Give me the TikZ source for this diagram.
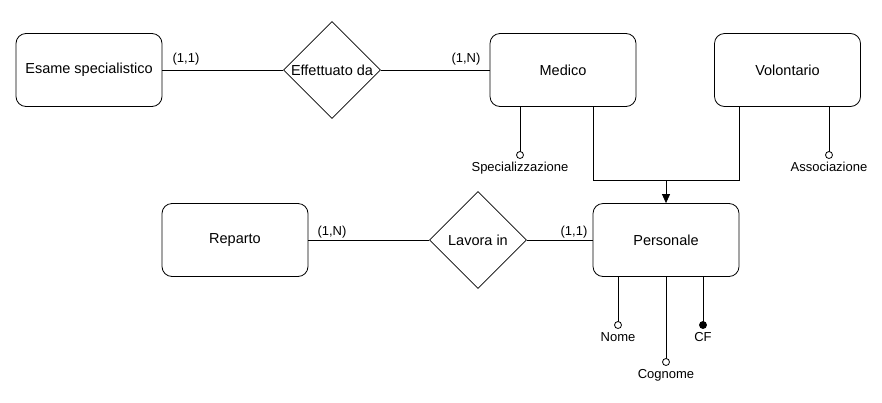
\documentclass[tikz,border=0pt]{standalone}
\usepackage{fontspec}
\setmainfont{Liberation Sans}
\usetikzlibrary{positioning}
\usetikzlibrary{shapes.geometric}
\usetikzlibrary{arrows.meta}

\tikzset{
  entity/.style={draw, rounded corners=10pt, minimum width=146pt, minimum height=73pt, font=\fontsize{14.5}{17}\selectfont},
  relation/.style={draw, diamond, aspect=1, minimum width=97pt, minimum height=97pt, inner sep=0pt, font=\fontsize{14.5}{17}\selectfont},
  card/.style={font=\fontsize{13}{15}\selectfont, inner sep=0pt},
  attr/.style={draw, circle, fill=white, minimum size=7pt, inner sep=0pt},
  attrkey/.style={attr, fill=black},
  attrlabel/.style={font=\fontsize{13}{15}\selectfont, inner sep=1pt}
}

\begin{document}
\begin{tikzpicture}[x=1pt,y=-1pt,line width=0.8pt]
		\useasboundingbox (0,0) rectangle (882,402);
		% entities
		\node at (89,70) [entity] (esame) {Esame specialistico};
		\node at (563,70) [entity] (medico) {Medico};
		\node at (787.5,70) [entity] (volontario) {Volontario};
		\node at (235,240) [entity] (reparto) {Reparto};
		\node at (666,240) [entity] (personale) {Personale};
		% relations
		\node at (332,70) [relation] (effettuato) {Effettuato da};
		\node at (478,240) [relation] (lavora) {Lavora in};
		\draw (esame) -- (effettuato) -- (medico);
		\draw (reparto) -- (lavora) -- (personale);
		\node at (186,59) [card] (c1) {(1,1)};
		\node at (466,59) [card] (c2) {(1,N)};
		\node at (332,232) [card] (c3) {(1,N)};
		\node at (574,232) [card] (c4) {(1,1)};
		% generalization
		\coordinate (gm) at (593,180);
		\coordinate (gv) at (739,180);
		\coordinate (join) at (666,180);
		\draw (gm |- medico.south) -- (gm) -- (gv) -- (gv |- volontario.south);
		\draw [-{Triangle[width=8pt,length=9pt]}] (join) -- (personale.north);
		% attributes
		\coordinate (specpos) at (520,155);
		\draw (specpos |- medico.south) -- (specpos);
		\node at (specpos) [attr] (spec) {};
		\node [attrlabel,below=2pt of spec] (speclabel) {Specializzazione};
		\coordinate (assocpos) at (829,155);
		\draw (assocpos |- volontario.south) -- (assocpos);
		\node at (assocpos) [attr] (assoc) {};
		\node [attrlabel,below=2pt of assoc] (assoclabel) {Associazione};
		\coordinate (nomepos) at (618,325);
		\draw (nomepos |- personale.south) -- (nomepos);
		\node at (nomepos) [attr] (nome) {};
		\node [attrlabel,below=2pt of nome] (nomelabel) {Nome};
		\coordinate (cognomepos) at (666,362);
		\draw (cognomepos |- personale.south) -- (cognomepos);
		\node at (cognomepos) [attr] (cognome) {};
		\node [attrlabel,below=2pt of cognome] (cognomelabel) {Cognome};
		\coordinate (cfpos) at (703,325);
		\draw (cfpos |- personale.south) -- (cfpos);
		\node at (cfpos) [attrkey] (cf) {};
		\node [attrlabel,below=2pt of cf] (cflabel) {CF};
\end{tikzpicture}
\end{document}
